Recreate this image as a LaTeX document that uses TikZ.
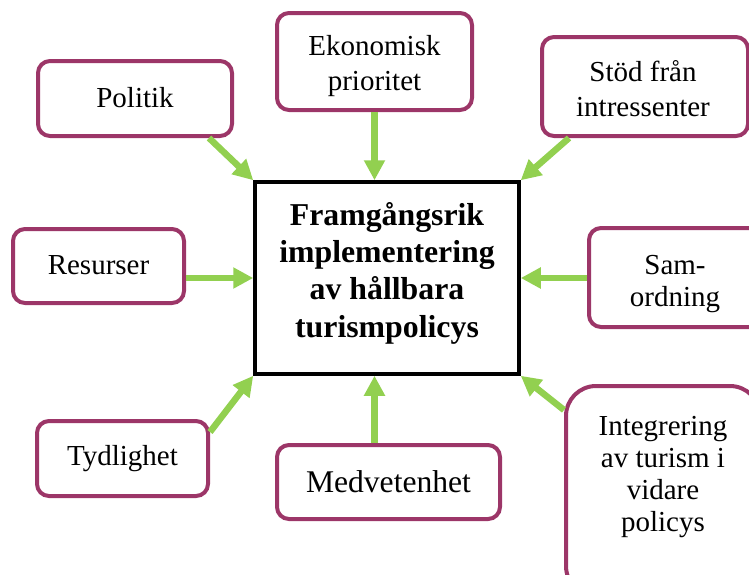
\documentclass[tikz,border=0pt]{standalone}
\usepackage{fontspec}
\setmainfont{Liberation Serif}
\usetikzlibrary{arrows.meta}
\definecolor{boxpurple}{RGB}{156,54,104}
\definecolor{arrgreen}{RGB}{146,208,80}
\tikzset{
  factor/.style={draw=boxpurple, line width=4pt, rounded corners=12pt, fill=white,
    align=center, inner sep=0pt, font=\fontsize{29}{35}\selectfont},
  bigfactor/.style={factor, rounded corners=30pt},
  plain/.style={align=center, inner sep=0pt, font=\fontsize{29}{32}\selectfont},
  goal/.style={draw=black, line width=3.5pt, fill=white, inner sep=0pt},
  goaltext/.style={align=center, inner sep=0pt, font=\fontsize{31.8}{37.3}\selectfont\bfseries},
  flow/.style={draw=arrgreen, line width=6.5pt, -{Triangle[length=20pt,width=20pt]}}
}
\begin{document}
\begin{tikzpicture}[x=1pt,y=-1pt]
\useasboundingbox (0,0) rectangle (749,574);
\node[goal, minimum width=264pt, minimum height=192pt] (c) at (387,278) {};
\node[goaltext] (ct) at (387,273) {Framgångsrik\\implementering\\av hållbara\\turismpolicys};
\node[factor, minimum width=194pt, minimum height=75pt] (pol) at (135,98.5) {\raisebox{2pt}{Politik}};
\node[factor, minimum width=195pt, minimum height=97pt] (eko) at (374.5,61.5) {};
\node[plain, font=\fontsize{29}{35}\selectfont] (ekot) at (374.5,66) {Ekonomisk\\prioritet};
\node[factor, minimum width=206pt, minimum height=99pt] (sto) at (645,86.5) {};
\node[plain, font=\fontsize{29}{35}\selectfont] (stot) at (643,89) {Stöd från\\intressenter};
\node[factor, minimum width=171pt, minimum height=74pt] (res) at (98.5,266) {\raisebox{3pt}{Resurser}};
\node[factor, minimum width=172pt, minimum height=99pt] (sam) at (675,277.5) {};
\node[plain] (samt) at (675,284) {Sam-\\ordning};
\node[factor, minimum width=171pt, minimum height=75pt] (tyd) at (122.5,458.5) {Tydlighet};
\node[factor, minimum width=223pt, minimum height=74pt, font=\fontsize{31.6}{36}\selectfont] (med) at (388.5,482) {Medvetenhet};
\node[bigfactor, minimum width=194pt, minimum height=210pt] (int) at (663,491) {};
\node[plain] (intt) at (663,477) {Integrering\\av turism i\\vidare\\policys};
\draw[flow] ([xshift=-25pt]pol.south east) -- (c.north west);
\draw[flow] (eko.south) -- (c.north -| eko.south);
\draw[flow] ([xshift=-181pt]sto.south east) -- (c.north east);
\draw[flow] (res.east |- c.west) -- (c.west);
\draw[flow] (sam.west |- c.east) -- (c.east);
\draw[flow] ([yshift=-13pt]tyd.north east) -- (c.south west);
\draw[flow] (med.north -| eko.south) -- (c.south -| eko.south);
\draw[flow] ([yshift=-26pt]int.north west) -- (c.south east);
\end{tikzpicture}
\end{document}
